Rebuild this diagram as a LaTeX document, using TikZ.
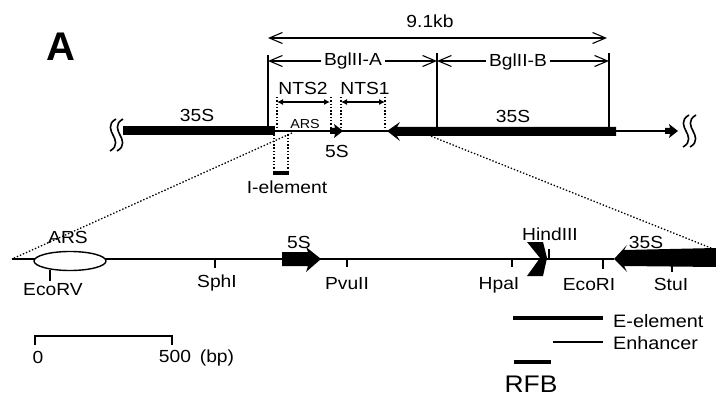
\documentclass[tikz,border=0pt]{standalone}
\usepackage{fontspec}
\setmainfont{Liberation Sans}[FakeStretch=1.1]
\newfontfamily\plainsans{Liberation Sans}
\usetikzlibrary{arrows.meta,shapes.geometric}
\tikzset{
  lbl/.style={inner sep=0pt, font=\fontsize{17.5}{17.5}\selectfont},
  lblbig/.style={inner sep=0pt, font=\fontsize{18}{18}\selectfont},
  smalllbl/.style={inner sep=0pt, font=\fontsize{13}{13}\selectfont},
  dimline/.style={line width=1.1pt, {Straight Barb[length=13pt,width=11pt]}-{Straight Barb[length=13pt,width=11pt]}},
  ntsline/.style={line width=1.1pt, {Latex[length=6pt,width=6pt]}-{Latex[length=6pt,width=6pt]}},
  dotline/.style={line width=1.3pt, dash pattern=on 1.4pt off 1.9pt},
  thinline/.style={line width=1.4pt},
  tickline/.style={line width=1.1pt},
  barline/.style={line width=3.4pt},
  brk/.pic={\draw[line width=1.6pt] (3,-16) .. controls (-6,-11) and (-2,-4) .. (0,0) .. controls (2,4) and (6,11) .. (-3,16);},
}
\begin{document}
\begin{tikzpicture}[x=1pt,y=-1pt]
\useasboundingbox (0,0) rectangle (716,396);
\fill[white] (0,0) rectangle (716,396);

% ---- panel letter
\node[inner sep=0pt, font=\plainsans\bfseries\fontsize{40}{40}\selectfont] (A) at (61,47) {A};

% ---- top map
\coordinate (Lend) at (123,131);
\coordinate (barAend) at (275,131);
\coordinate (tipR) at (387,131);
\coordinate (barRend) at (616,131);
\coordinate (Rend) at (676,131);

\draw[thinline] (barAend) -- (Rend);
\draw[line width=9pt] (Lend) -- (barAend);
\fill (tipR) -- (400,122) -- (397,127) -- (616,127) -- (616,136) -- (397,136) -- (400,141) -- cycle;
% small 5S arrow (top)
\fill (330,128) -- (335,128) -- (334,124) -- (343,131) -- (334,138) -- (335,134) -- (330,134) -- cycle;
% small arrow at right end
\fill (665,128) -- (670,128) -- (669,124) -- (678,131) -- (669,138) -- (670,134) -- (665,134) -- cycle;
% break marks
\pic at (113,135) {brk};
\pic at (120,135) {brk};
\pic at (686,131) {brk};
\pic at (693,131) {brk};

% vertical lines
\coordinate (v1t) at (268,55);  \coordinate (v1b) at (268,131);
\coordinate (v2t) at (437,53);  \coordinate (v2b) at (437,131);
\coordinate (v3t) at (609,53);  \coordinate (v3b) at (609,131);
\draw[tickline] (v1t) -- (v1b);
\draw[tickline] (v2t) -- (v2b);
\draw[tickline] (v3t) -- (v3b);

% dimension arrows
\coordinate (k1) at (268,38); \coordinate (k2) at (607,38);
\draw[dimline] (k1) -- (k2);
\node[lbl] (kb) at (430,21) {9.1kb};
\coordinate (a1) at (268,61); \coordinate (a2) at (437,61); \coordinate (a3) at (609,61);
\draw[dimline] (a1) -- (a2);
\draw[dimline] (a2) -- (a3);
\node[lbl, fill=white, inner xsep=3pt, inner ysep=1pt] (bglA) at (353,61) {BglII-A};
\node[lbl, fill=white, inner xsep=3pt, inner ysep=1pt] (bglB) at (518,62) {BglII-B};

% NTS
\coordinate (n1) at (277,102); \coordinate (n2) at (330,102);
\coordinate (n3) at (341,102); \coordinate (n4) at (385,102);
\draw[ntsline] (n1) -- (n2);
\draw[ntsline] (n3) -- (n4);
\node[lbl] (nts2) at (303,88) {NTS2};
\node[lbl] (nts1) at (365,88) {NTS1};
\draw[dotline] (277,97) -- (277,131);
\draw[dotline] (331,97) -- (331,131);
\draw[dotline] (341,97) -- (341,131);
\draw[dotline] (385,97) -- (385,129);

% I-element
\coordinate (ie1) at (274,173); \coordinate (ie2) at (288,173);
\draw[dotline] (274,131) -- (ie1);
\draw[dotline] (288,131) -- (ie2);
\draw[barline] (273,173) -- (289,173);
\node[lbl] (iel) at (287,187) {I-element};

% top labels
\node[lbl] (t35a) at (197,115) {35S};
\node[lbl] (t35b) at (513,116) {35S};
\node[smalllbl] (tars) at (305,124) {ARS};
\node[lbl] (t5s) at (337,151) {5S};

% ---- expansion lines
\coordinate (ex1) at (292,133);
\coordinate (ex2) at (428,135);
\coordinate (bL) at (12,259);
\coordinate (bR) at (716,250);
\draw[dotline] (ex1) -- (bL);
\draw[dotline] (ex2) -- (bR);

% ---- bottom map
\coordinate (tipB) at (614,259);
\draw[thinline] (bL) -- (tipB);
\node[draw, thinline, fill=white, ellipse, minimum width=72pt, minimum height=19pt, inner sep=0pt] (ars) at (70,261) {};
\node[lbl] (bars) at (68,237) {ARS};
% EcoRV
\draw[tickline] (50,270) coordinate (ev) -- (50,281);
\node[lbl] (ecorv) at (53,290) {EcoRV};
% SphI
\draw[tickline] (215,259) -- (215,268);
\node[lbl] (sph) at (217,283) {SphI};
% 5S arrow bottom
\fill (282,252) -- (308,252) -- (306,247) -- (321,259) -- (306,272) -- (308,266) -- (282,266) -- cycle;
\node[lbl] (b5s) at (299,242) {5S};
% PvuII
\draw[tickline] (347,259) -- (347,267);
\node[lbl] (pvu) at (347,284) {PvuII};
% HpaI
\draw[tickline] (512,259) -- (512,267);
\node[lbl] (hpa) at (499,285) {HpaI};
% HindIII
\fill (527,242) -- (543,242) -- (547,258) -- (543,276) -- (527,276) -- (540,258) -- cycle;
\draw[tickline] (549,249) -- (549,259);
\node[lbl] (hind) at (550,234) {HindIII};
% EcoRI
\draw[tickline] (603,259) -- (603,269);
\node[lbl] (ecori) at (589,285) {EcoRI};
% 35S bottom
\fill (tipB) -- (627,245) -- (624,250) -- (716,248) -- (716,267) -- (624,266) -- (627,272) -- cycle;
\node[lbl] (b35s) at (646,242) {35S};
% StuI
\draw[tickline] (672,265) -- (672,272);
\node[lbl] (stu) at (671,284) {StuI};

% ---- elements
\draw[barline] (513,318) -- (603,318);
\node[lblbig, anchor=west] (eel) at (613,321) {E-element};
\draw[line width=2pt] (553,342) -- (603,342);
\node[lblbig, anchor=west] (enh) at (613,343) {Enhancer};
\draw[line width=3.8pt] (514,362) -- (551,362);
\node[inner sep=0pt, font=\fontsize{24}{24}\selectfont] (rfb) at (531,384) {RFB};

% ---- scale bar
\coordinate (s0) at (35,336); \coordinate (s1) at (172,336);
\draw[tickline] (35,345) -- (s0) -- (s1) -- (172,345);
\node[lbl] (z0) at (38,357) {0};
\node[lbl] (z500) at (175,356) {500};
\node[lbl] (bp) at (217,358) {(bp)};
\end{tikzpicture}
\end{document}
